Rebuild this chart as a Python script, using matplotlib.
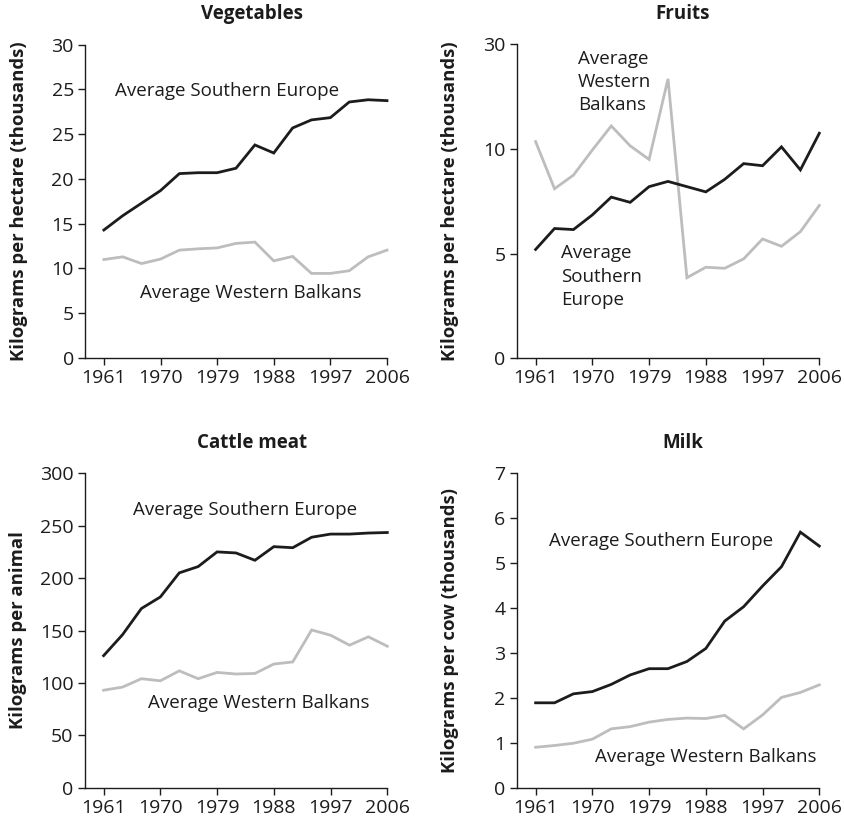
import matplotlib.pyplot as plt

plt.rcParams['font.family'] = ['Open Sans', 'DejaVu Sans']

# ---- data ----
years = [1961, 1964, 1967, 1970, 1973, 1976, 1979, 1982,
         1985, 1988, 1991, 1994, 1997, 2000, 2003, 2006]
tick_years = [1961, 1970, 1979, 1988, 1997, 2006]

# vegetables (y positions on the axis as drawn; labels below)
veg_se = [14.3, 15.9, 17.3, 18.7, 20.6, 20.7, 20.7, 21.2,
          23.8, 22.9, 25.7, 26.6, 26.85, 28.6, 28.85, 28.75]
veg_wb = [11.0, 11.3, 10.55, 11.05, 12.05, 12.2, 12.3, 12.8,
          12.95, 10.85, 11.35, 9.45, 9.45, 9.75, 11.3, 12.05]
veg_ticks = [0, 5, 10, 15, 20, 25, 30, 35]
veg_labels = ['0', '5', '10', '15', '20', '25', '25', '30']

fru_se = [5.2, 6.2, 6.15, 6.85, 7.7, 7.45, 8.2, 8.45,
          8.2, 7.95, 8.55, 9.3, 9.2, 10.1, 9.0, 10.75]
fru_wb = [10.35, 8.1, 8.75, 9.95, 11.1, 10.15, 9.5, 13.35,
          3.85, 4.35, 4.3, 4.75, 5.7, 5.35, 6.05, 7.3]
fru_ticks = [0, 5, 10, 15]
fru_labels = ['0', '5', '10', '30']

cat_se = [126, 146, 171, 182, 205, 211, 225, 224,
          217, 230, 229, 239, 242, 242, 243, 243.5]
cat_wb = [93, 96, 104, 102, 111.5, 104, 110, 108.5,
          109, 118, 120, 150.5, 145.5, 136, 144, 135]
cat_ticks = [0, 50, 100, 150, 200, 250, 300]

milk_se = [1.89, 1.89, 2.09, 2.14, 2.3, 2.51, 2.65, 2.65,
           2.81, 3.1, 3.71, 4.03, 4.49, 4.92, 5.69, 5.38]
milk_wb = [0.9, 0.94, 0.99, 1.08, 1.31, 1.36, 1.46, 1.52,
           1.55, 1.54, 1.61, 1.31, 1.62, 2.01, 2.12, 2.29]
milk_ticks = [0, 1, 2, 3, 4, 5, 6, 7]

DARK = '#1c1c1c'
GREY = '#bdbdbd'
W, H = 845, 827

fig = plt.figure(figsize=(W / 100, H / 100), dpi=100)


def px_axes(left, right, top, bottom):
    return fig.add_axes([left / W, 1 - bottom / H, (right - left) / W, (bottom - top) / H])


def style(ax, ylim, yticks, ylabels, ylabel):
    ax.set_xlim(1958, 2006)
    ax.set_ylim(*ylim)
    ax.set_xticks(tick_years)
    ax.set_yticks(yticks)
    ax.set_yticklabels(ylabels)
    for s in ['top', 'right']:
        ax.spines[s].set_visible(False)
    for s in ['left', 'bottom']:
        ax.spines[s].set_linewidth(1.0)
        ax.spines[s].set_color(DARK)
    ax.tick_params(direction='out', length=5, width=1.0, colors=DARK,
                   labelsize=14, pad=3)
    ax.set_ylabel(ylabel, fontsize=13.3, fontweight='bold', color=DARK)
    ax.yaxis.set_label_coords(-0.19, 0.5)


def plot_pair(ax, se, wb):
    ax.plot(years, wb, color=GREY, lw=2, solid_joinstyle='miter', clip_on=False)
    ax.plot(years, se, color=DARK, lw=2, solid_joinstyle='miter', clip_on=False)


TXT = dict(fontsize=13.5, color=DARK, ha='left', va='center')

# Vegetables
ax1 = px_axes(85, 387, 44.7, 358)
plot_pair(ax1, veg_se, veg_wb)
style(ax1, (0, 35), veg_ticks, veg_labels, 'Kilograms per hectare (thousands)')
ax1.text(1962.75, 29.85, 'Average Southern Europe', **TXT)
ax1.text(1966.7, 7.25, 'Average Western Balkans', **TXT)

# Fruits
ax2 = px_axes(516.7, 819.3, 44.3, 358.3)
plot_pair(ax2, fru_se, fru_wb)
style(ax2, (0, 15), fru_ticks, fru_labels, 'Kilograms per hectare (thousands)')
ax2.text(1967.7, 13.2, 'Average\nWestern\nBalkans', linespacing=1.38, **TXT)
ax2.text(1965.0, 3.9, 'Average\nSouthern\nEurope', linespacing=1.38, **TXT)

# Cattle meat
ax3 = px_axes(84.7, 387.3, 473.3, 787.7)
plot_pair(ax3, cat_se, cat_wb)
style(ax3, (0, 300), cat_ticks, [str(t) for t in cat_ticks], 'Kilograms per animal')
ax3.text(1965.6, 265, 'Average Southern Europe', **TXT)
ax3.text(1968.1, 81, 'Average Western Balkans', **TXT)

# Milk
ax4 = px_axes(516.7, 819.3, 473.3, 787.7)
plot_pair(ax4, milk_se, milk_wb)
style(ax4, (0, 7), milk_ticks, [str(t) for t in milk_ticks], 'Kilograms per cow (thousands)')
ax4.text(1963.1, 5.5, 'Average Southern Europe', **TXT)
ax4.text(1970.4, 0.69, 'Average Western Balkans', **TXT)

# titles
TT = dict(fontsize=13.5, fontweight='bold', color=DARK, ha='center', va='center')
fig.text(252 / W, 1 - 14 / H, 'Vegetables', **TT)
fig.text(683 / W, 1 - 14 / H, 'Fruits', **TT)
fig.text(252 / W, 1 - 443 / H, 'Cattle meat', **TT)
fig.text(683 / W, 1 - 443 / H, 'Milk', **TT)

fig.savefig('out.png', dpi=100)
